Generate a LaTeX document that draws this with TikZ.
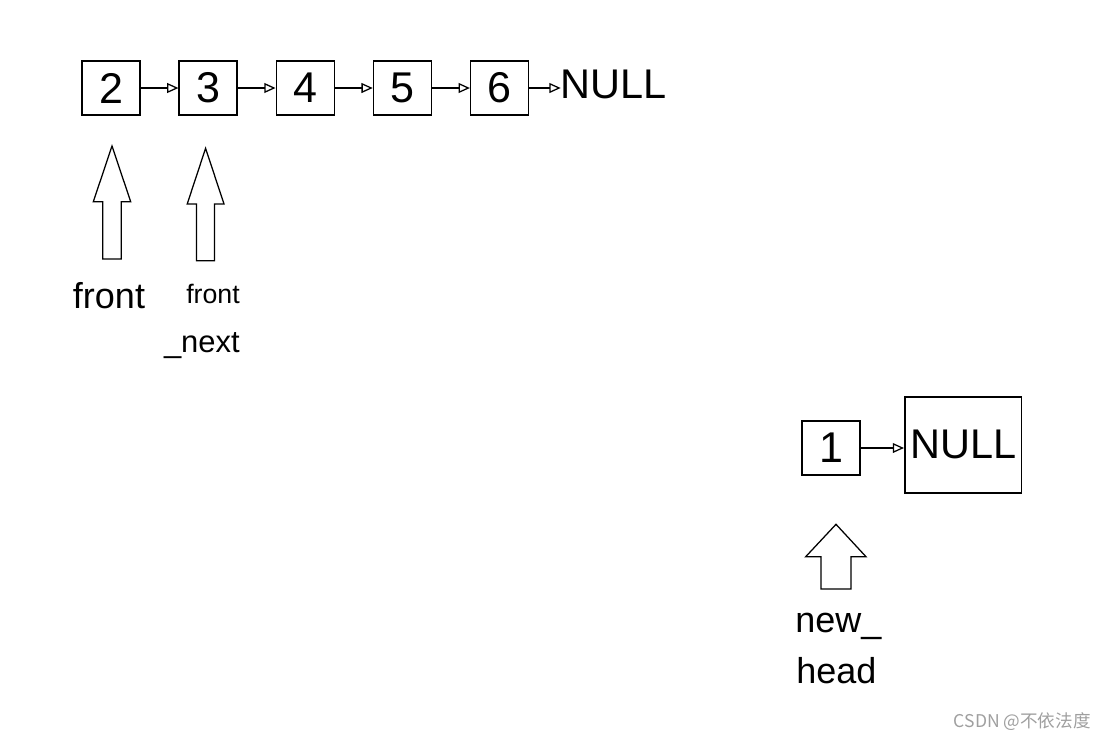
\documentclass[tikz,border=0pt]{standalone}
\usepackage{fontspec}
\setmainfont{Liberation Sans}
\newfontfamily\cjk{Noto Sans CJK SC}
\usepackage{tikz}
\usetikzlibrary{arrows.meta,positioning}

\begin{document}
\begin{tikzpicture}[
  x=0.025cm, y=-0.025cm,
  node distance=0.3cm and 0.94cm,
  box/.style={draw, line width=1.1pt, minimum width=1.45cm, minimum height=1.35cm, inner sep=0pt, font=\fontsize{30.6}{36}\selectfont},
  nulltxt/.style={inner sep=0pt, font=\fontsize{29.5}{36}\selectfont},
  arr/.style={-{Triangle[open, length=8pt, width=7pt]}, line width=0.9pt},
  blk/.style={draw, line width=0.9pt, line join=miter},
  lbl/.style={inner sep=0pt, font=\fontsize{25.6}{30}\selectfont}
]
  \useasboundingbox (0,0) rectangle (1106,739);

  % list that is left
  \node[box] (n2) at (111,88) {2};
  \node[box, right=of n2] (n3) {3};
  \node[box, right=of n3] (n4) {4};
  \node[box, right=of n4] (n5) {5};
  \node[box, right=of n5] (n6) {6};
  \node[nulltxt, right=0.78cm of n6, yshift=0.08cm] (null1) {NULL};

  \draw[arr] (n2) -- (n3);
  \draw[arr] (n3) -- (n4);
  \draw[arr] (n4) -- (n5);
  \draw[arr] (n5) -- (n6);
  \draw[arr] (n6) -- (n6 -| null1.west);

  % pointers
  \draw[blk] (112,146) -- (130.7,201.7) -- (121.2,201.7) -- (121.2,259) -- (102.8,259) -- (102.8,201.7) -- (93.3,201.7) -- cycle;
  \draw[blk] (205.6,148.3) -- (224,204) -- (214.6,204) -- (214.6,260.7) -- (196.6,260.7) -- (196.6,204) -- (187.2,204) -- cycle;
  \node[lbl, anchor=base] (front) at (109,308) {front};
  \node[inner sep=0pt, anchor=base east, font=\fontsize{19}{22}\selectfont] (frontnx) at (240,303) {front};
  \node[inner sep=0pt, anchor=base east, font=\fontsize{22}{26}\selectfont] (nextlbl) at (240,352) {\_next};

  % new list
  \node[box] (n1) at (831,448) {1};
  \node[box, nulltxt, minimum width=2.92cm, minimum height=2.4cm, right=1.08cm of n1, yshift=0.08cm] (null2) {NULL};
  \draw[arr] (n1) -- (n1 -| null2.west);

  \draw[blk] (836,524.3) -- (866,556.7) -- (851,556.7) -- (851,589) -- (821,589) -- (821,556.7) -- (805.7,556.7) -- cycle;
  \node[lbl, anchor=base west] (newlbl) at (795,632) {new\_};
  \node[lbl, anchor=base west] (headlbl) at (796,683) {head};

  \node[anchor=base east, inner sep=0pt, text=gray!75, font=\cjk\fontsize{12.5}{14}\selectfont] (wm) at (1091,727) {CSDN @不依法度};
\end{tikzpicture}
\end{document}
